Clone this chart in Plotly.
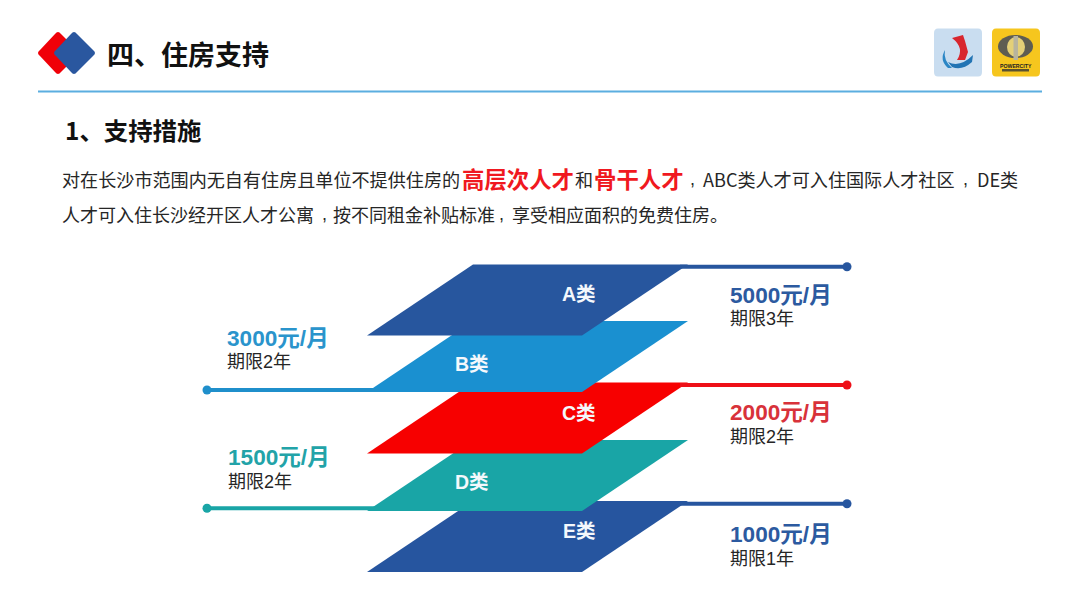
import plotly.graph_objects as go

# tiers, bottom plate first so that the upper ones overlap it
categories = ["E类", "D类", "C类", "B类", "A类"]
amounts = ["1000元/月", "1500元/月", "2000元/月", "3000元/月", "5000元/月"]
terms = ["期限1年", "期限2年", "期限2年", "期限2年", "期限3年"]

plate_colors = ["#26559F", "#19A5A6", "#F70000", "#1A90D0", "#27569E"]
amount_colors = ["#2C5AA0", "#22A3A8", "#D8323A", "#2A94CC", "#2C5AA0"]
line_colors = ["#26559F", "#19A5A6", "#EE1018", "#1F8FCB", "#27569E"]

# page layout, in page pixels
plate_top = [501, 440, 382.5, 321, 264.5]
plate_left = 367
plate_width = 215
plate_skew = 106
plate_height = 71
label_x = [579, 472, 579, 472, 579]
label_y = [531, 482, 413, 364, 294]
line_y = [503.7, 508.3, 385, 390, 266.8]
line_start = [680, 380, 680, 380, 680]
line_end = [847, 207, 847, 207, 847]
amount_x = [730, 228, 730, 227, 730]
amount_y = [534, 457, 412, 338, 295]
term_y = [559, 482, 437, 362, 319]

FONT = "Noto Sans CJK SC"
MIXED = f"Liberation Sans, {FONT}"
BODY = "#262626"

fig = go.Figure()

for i, c in enumerate(categories):
    y0 = plate_top[i]
    y1 = y0 + plate_height
    fig.add_trace(go.Scatter(
        x=[plate_left + plate_skew, plate_left + plate_skew + plate_width,
           plate_left + plate_width, plate_left, plate_left + plate_skew],
        y=[y0, y0, y1, y1, y0],
        mode="lines", fill="toself", fillcolor=plate_colors[i],
        line=dict(width=0, color=plate_colors[i]), hoverinfo="skip"))
    fig.add_trace(go.Scatter(
        x=[line_start[i], line_end[i]], y=[line_y[i], line_y[i]],
        mode="lines", line=dict(width=4, color=line_colors[i]), hoverinfo="skip"))
    fig.add_trace(go.Scatter(
        x=[line_end[i]], y=[line_y[i]], mode="markers",
        marker=dict(size=9, color=line_colors[i]), hoverinfo="skip"))


def add_text(x, y, text, size, color=BODY, bold=False, anchor="left", family=FONT):
    if bold:
        text = f"<b>{text}</b>"
    fig.add_annotation(x=x, y=y, text=text, showarrow=False, xref="x", yref="y",
                       xanchor=anchor, yanchor="middle", borderpad=0, borderwidth=0,
                       font=dict(family=family, size=size, color=color))


for i, c in enumerate(categories):
    add_text(label_x[i], label_y[i], c, 19.5, "#F4F8FC", True, "center", MIXED)
    add_text(amount_x[i], amount_y[i], amounts[i], 22.6, amount_colors[i], True, family=MIXED)
    add_text(amount_x[i], term_y[i], terms[i], 18, family=MIXED)

# heading block
add_text(107, 53, "四、住房支持", 27, "#111111", True)
add_text(65, 129.5, "1、支持措施", 24.4, "#111111", True)

add_text(62, 179, "对在长沙市范围内无自有住房且单位不提供住房的", 18.1)
add_text(462, 178, "高层次人才", 22.4, "#F01820", True)
add_text(575, 179, "和", 18.1)
add_text(594, 178, "骨干人才", 22.4, "#F01820", True)
add_text(690, 179, ",", 18, family="Liberation Sans")
add_text(703, 179, "ABC类人才可入住国际人才社区", 18.1)
add_text(963, 179, ",", 18, family="Liberation Sans")
add_text(977, 179, "DE类", 18.1)
add_text(62, 214, "人才可入住长沙经开区人才公寓", 18)
add_text(322, 214, ",", 18, family="Liberation Sans")
add_text(333, 214, "按不同租金补贴标准", 18)
add_text(499, 214, ",", 18, family="Liberation Sans")
add_text(512, 214, "享受相应面积的免费住房。", 18)
add_text(1015.5, 65.5, "<b>POWERCITY</b>", 5.2, "#222222", False, "center", "Liberation Sans")

shapes = [
    # title diamonds
    dict(type="path", fillcolor="#F00008", line_width=0,
         path="M 40 50 L 55 34 Q 58 30 61 34 L 77 50 Q 80 53 77 56 L 61 72 Q 58 76 55 72 L 40 56 Q 36 53 40 50 Z"),
    dict(type="path", fillcolor="#2A579F", line_width=0,
         path="M 56 50 L 71 34 Q 74 30 77 34 L 93 50 Q 97 53 93 56 L 77 72 Q 74 76 71 72 L 56 56 Q 52 53 56 50 Z"),
    # rule under the title
    dict(type="line", x0=38, x1=1042, y0=91.5, y1=91.5, line=dict(color="#5BAEE0", width=2)),
    # left logo
    dict(type="path", fillcolor="#C9DDF0", line_width=0,
         path="M 938 28.5 L 978 28.5 Q 982 28.5 982 33 L 982 72 Q 982 76.5 978 76.5 L 938 76.5 Q 934 76.5 934 72 L 934 33 Q 934 28.5 938 28.5 Z"),
    dict(type="path", fillcolor="#D8262E", line_width=0,
         path="M 952 38 L 963 35 L 965 41 L 968 52 L 965 60 L 957 60 Q 965 48 952 38 Z"),
    dict(type="path", fillcolor="#2B86C5", line_width=0,
         path="M 945 50 Q 939 60 948 68 L 952 68 Q 943 60 945 50 Z"),
    dict(type="path", fillcolor="#2274B4", line_width=0,
         path="M 948 62 Q 960 68 973 55 L 972 62 Q 962 71 952 67 Z"),
    # right logo
    dict(type="path", fillcolor="#F6C61E", line_width=0,
         path="M 996 28.5 L 1036 28.5 Q 1040 28.5 1040 33 L 1040 72 Q 1040 76.5 1036 76.5 L 996 76.5 Q 992 76.5 992 72 L 992 33 Q 992 28.5 996 28.5 Z"),
    dict(type="circle", x0=998, x1=1033, y0=35, y1=58, fillcolor="#5E5D52", line_width=0),
    dict(type="circle", x0=1007, x1=1025, y0=37, y1=57, fillcolor="#E4D078", line_width=0),
    dict(type="rect", x0=1013.5, x1=1018, y0=36, y1=60, fillcolor="#B8B49E", line_width=0),
    dict(type="rect", x0=1002, x1=1029, y0=69, y1=71.5, fillcolor="#5A5230", line_width=0),
]

fig.update_layout(
    width=1080, height=608, margin=dict(l=0, r=0, t=0, b=0),
    paper_bgcolor="white", plot_bgcolor="white", showlegend=False, shapes=shapes,
    xaxis=dict(range=[0, 1080], visible=False, fixedrange=True),
    yaxis=dict(range=[608, 0], visible=False, fixedrange=True),
)
# the default page keeps an 8px body margin, which would shift the whole slide
fig.write_html("out.html", config=dict(displayModeBar=False),
               post_script="document.body.style.margin = '0';")
